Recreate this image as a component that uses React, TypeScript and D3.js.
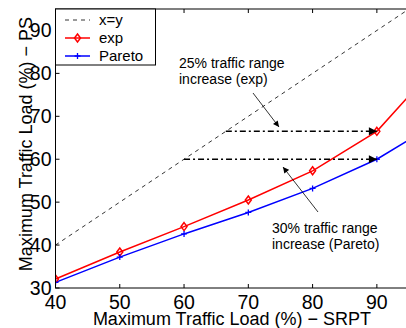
import React, { useEffect, useRef } from 'react';
import * as d3 from 'd3';

const loads = [40, 50, 60, 70, 80, 90, 100];
const expPs = [32.1, 38.4, 44.3, 50.5, 57.3, 66.5, 83];
const paretoPs = [31.3, 37.2, 42.6, 47.6, 53.2, 60.0, 69];
const xTicks = [40, 50, 60, 70, 80, 90];
const yTicks = [30, 40, 50, 60, 70, 80, 90];

const W = 406;
const H = 328;

const App: React.FC = () => {
  const svgRef = useRef<SVGSVGElement>(null);

  useEffect(() => {
    if (!svgRef.current) return;
    const svg = d3.select(svgRef.current);
    svg.selectAll('*').remove();

    const font = 'Liberation Sans, Arial, sans-serif';
    const x = d3.scaleLinear().domain([40, 95]).range([55.5, 409]);
    const y = d3.scaleLinear().domain([30, 95]).range([288, 9]);

    const defs = svg.append('defs');
    defs.append('clipPath').attr('id', 'plot')
      .append('rect')
      .attr('x', x(40)).attr('y', y(95))
      .attr('width', x(95) - x(40)).attr('height', y(30) - y(95));
    defs.append('marker')
      .attr('id', 'head')
      .attr('viewBox', '0 0 10 10')
      .attr('refX', 10).attr('refY', 5)
      .attr('markerWidth', 7).attr('markerHeight', 6)
      .attr('markerUnits', 'userSpaceOnUse')
      .attr('orient', 'auto')
      .append('path').attr('d', 'M0,0 L10,5 L0,10 z').attr('fill', '#000');
    defs.append('marker')
      .attr('id', 'bighead')
      .attr('viewBox', '0 0 10 10')
      .attr('refX', 10).attr('refY', 5)
      .attr('markerWidth', 11).attr('markerHeight', 8)
      .attr('markerUnits', 'userSpaceOnUse')
      .attr('orient', 'auto')
      .append('path').attr('d', 'M0,0 L10,5 L0,10 z').attr('fill', '#000');

    const plot = svg.append('g').attr('clip-path', 'url(#plot)');

    // x = y reference
    plot.append('line')
      .attr('x1', x(40)).attr('y1', y(40))
      .attr('x2', x(95)).attr('y2', y(95))
      .attr('stroke', '#000').attr('stroke-width', 0.8)
      .attr('stroke-dasharray', '4,4');

    const line = d3.line<number>()
      .x((_, i) => x(loads[i]))
      .y(d => y(d));

    plot.append('path').datum(expPs)
      .attr('d', line).attr('fill', 'none')
      .attr('stroke', '#ff0000').attr('stroke-width', 1.5);
    plot.append('path').datum(paretoPs)
      .attr('d', line).attr('fill', 'none')
      .attr('stroke', '#0000ff').attr('stroke-width', 1.5);

    // markers
    const diamond = (cx: number, cy: number) =>
      `M${cx},${cy - 4}L${cx + 3},${cy}L${cx},${cy + 4}L${cx - 3},${cy}Z`;
    const plus = (cx: number, cy: number) =>
      `M${cx - 3},${cy}H${cx + 3}M${cx},${cy - 3}V${cy + 3}`;

    plot.append('g').selectAll('path').data(expPs).join('path')
      .attr('d', (d, i) => diamond(x(loads[i]), y(d)))
      .attr('fill', 'none').attr('stroke', '#ff0000').attr('stroke-width', 1.5);
    plot.append('g').selectAll('path').data(paretoPs).join('path')
      .attr('d', (d, i) => plus(x(loads[i]), y(d)))
      .attr('fill', 'none').attr('stroke', '#0000ff').attr('stroke-width', 1.3);

    // range arrows (dash-dot)
    const rangeArrow = (v: number) => {
      svg.append('line')
        .attr('x1', x(v)).attr('y1', y(v))
        .attr('x2', x(90)).attr('y2', y(v))
        .attr('stroke', '#000').attr('stroke-width', 1.5)
        .attr('stroke-dasharray', '6,3,2,3')
        .attr('marker-end', 'url(#bighead)');
    };
    rangeArrow(expPs[5]);
    rangeArrow(paretoPs[5]);

    // annotation arrows
    svg.append('line')
      .attr('x1', 253).attr('y1', 93).attr('x2', 279).attr('y2', 127)
      .attr('stroke', '#000').attr('stroke-width', 0.8)
      .attr('marker-end', 'url(#head)');
    svg.append('line')
      .attr('x1', 318).attr('y1', 212).attr('x2', 283).attr('y2', 167)
      .attr('stroke', '#000').attr('stroke-width', 0.8)
      .attr('marker-end', 'url(#head)');

    const note = (tx: number, ty: number, lines: string[]) => {
      const t = svg.append('text')
        .attr('font-family', font).attr('font-size', 14).attr('fill', '#000');
      lines.forEach((s, i) => {
        t.append('tspan').attr('x', tx).attr('y', ty + i * 16).text(s);
      });
    };
    note(179, 68, ['25% traffic range', 'increase (exp)']);
    note(272, 233, ['30% traffic range', 'increase (Pareto)']);

    // axes box
    svg.append('rect')
      .attr('x', x(40)).attr('y', y(95))
      .attr('width', x(95) - x(40)).attr('height', y(30) - y(95))
      .attr('fill', 'none').attr('stroke', '#000').attr('stroke-width', 1);

    const ticks = svg.append('g').attr('stroke', '#000').attr('stroke-width', 1);
    xTicks.forEach(t => {
      ticks.append('line').attr('x1', x(t)).attr('x2', x(t)).attr('y1', y(30)).attr('y2', y(30) - 4);
      ticks.append('line').attr('x1', x(t)).attr('x2', x(t)).attr('y1', y(95)).attr('y2', y(95) + 4);
    });
    yTicks.forEach(t => {
      ticks.append('line').attr('x1', x(40)).attr('x2', x(40) + 4).attr('y1', y(t)).attr('y2', y(t));
    });

    svg.append('g').selectAll('text').data(xTicks).join('text')
      .attr('x', d => x(d)).attr('y', y(30) + 21)
      .attr('text-anchor', 'middle')
      .attr('font-family', font).attr('font-size', 19.5)
      .text(d => d);
    svg.append('g').selectAll('text').data(yTicks).join('text')
      .attr('x', x(40) - 4).attr('y', d => y(d) + 7)
      .attr('text-anchor', 'end')
      .attr('font-family', font).attr('font-size', 19.5)
      .text(d => d);

    svg.append('text')
      .attr('x', 232).attr('y', 325)
      .attr('text-anchor', 'middle')
      .attr('font-family', font).attr('font-size', 18)
      .text('Maximum Traffic Load (%) \u2212 SRPT');
    svg.append('text')
      .attr('transform', 'translate(32,144) rotate(-90)')
      .attr('text-anchor', 'middle')
      .attr('font-family', font).attr('font-size', 18)
      .text('Maximum Traffic Load (%) \u2212 PS');

    // legend
    const lg = svg.append('g');
    lg.append('rect')
      .attr('x', x(40)).attr('y', y(95))
      .attr('width', 100).attr('height', 56)
      .attr('fill', '#fff').attr('stroke', '#000').attr('stroke-width', 1);
    const items = [
      { label: 'x=y', color: '#000', dash: '4,4', mark: 'none' },
      { label: 'exp', color: '#ff0000', dash: null, mark: 'diamond' },
      { label: 'Pareto', color: '#0000ff', dash: null, mark: 'plus' },
    ];
    items.forEach((it, i) => {
      const cy = 20 + i * 18;
      lg.append('line')
        .attr('x1', 65).attr('x2', 90).attr('y1', cy).attr('y2', cy)
        .attr('stroke', it.color)
        .attr('stroke-width', it.dash ? 0.8 : 1.5)
        .attr('stroke-dasharray', it.dash);
      if (it.mark === 'diamond') {
        lg.append('path').attr('d', diamond(77.5, cy))
          .attr('fill', 'none').attr('stroke', it.color).attr('stroke-width', 1.5);
      } else if (it.mark === 'plus') {
        lg.append('path').attr('d', plus(77.5, cy))
          .attr('fill', 'none').attr('stroke', it.color).attr('stroke-width', 1.3);
      }
      lg.append('text')
        .attr('x', 99).attr('y', cy + 5)
        .attr('font-family', font).attr('font-size', 15)
        .text(it.label);
    });
  }, []);

  return (
    <svg
      ref={svgRef}
      width={W}
      height={H}
      style={{ position: 'absolute', left: 0, top: 0, background: '#fff' }}
    />
  );
};

export default App;
